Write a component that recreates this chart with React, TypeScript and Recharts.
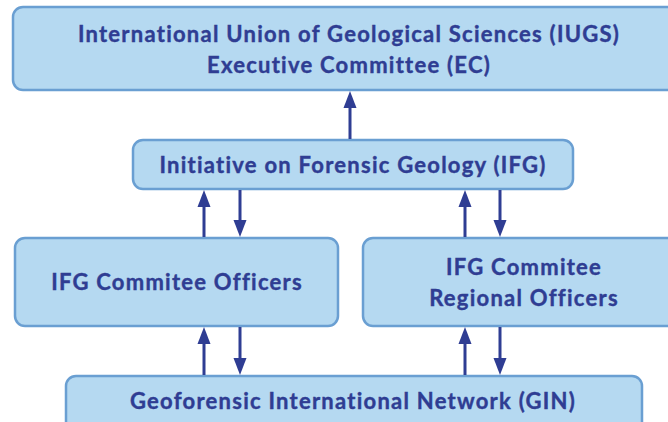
import React from "react";
import { ComposedChart, XAxis, YAxis, ReferenceArea, ReferenceLine } from "recharts";

// Node labels (content)
const nodeIds = ["iugs", "ifg", "officers", "regional", "gin"];
const nodeLines: string[][] = [
  ["International Union of Geological Sciences (IUGS)", "Executive Committee (EC)"],
  ["Initiative on Forensic Geology (IFG)"],
  ["IFG Commitee Officers"],
  ["IFG Commitee", "Regional Officers"],
  ["Geoforensic International Network (GIN)"],
];
// Links between nodes: [from, to]
const links: [string, string][] = [
  ["ifg", "iugs"],
  ["officers", "ifg"],
  ["ifg", "officers"],
  ["regional", "ifg"],
  ["ifg", "regional"],
  ["gin", "officers"],
  ["officers", "gin"],
  ["gin", "regional"],
  ["regional", "gin"],
];

// Layout (diagram coordinates)
const boxLayout: Record<string, { x1: number; x2: number; y1: number; y2: number; cx: number; cy: number }> = {
  iugs: { x1: 13, x2: 690, y1: 7, y2: 90, cx: 349, cy: 49 },
  ifg: { x1: 133, x2: 573, y1: 140, y2: 189, cx: 353, cy: 164 },
  officers: { x1: 15, x2: 338, y1: 238, y2: 326, cx: 177, cy: 281 },
  regional: { x1: 363, x2: 690, y1: 238, y2: 326, cx: 524, cy: 282 },
  gin: { x1: 66, x2: 642, y1: 376, y2: 440, cx: 353, cy: 400 },
};
const linkX: number[] = [350, 204, 240, 465, 500, 204, 240, 465, 500];

const FILL = "#b5d9f1";
const STROKE = "#6a9fd2";
const INK = "#2f3d93";
const FONT = "Lato, 'Open Sans', sans-serif";

const BoxShape = (lines: string[], cx: number, cy: number) => (props: any) => {
  const { x, y, width, height } = props;
  const lh = 31;
  const start = cy - ((lines.length - 1) * lh) / 2;
  return (
    <g>
      <rect x={x} y={y} width={width} height={height} rx={10} ry={10} fill={FILL} stroke={STROKE} strokeWidth={2.5} />
      {lines.map((t, i) => (
        <text
          key={i}
          x={cx}
          y={start + i * lh}
          textAnchor="middle"
          dominantBaseline="central"
          fill={INK}
          stroke={INK}
          strokeWidth={0.4}
          fontFamily={FONT}
          fontWeight={700}
          fontSize={22}
          letterSpacing={1.25}
        >
          {t}
        </text>
      ))}
    </g>
  );
};

const ArrowShape = (props: any) => {
  const { x1, y1, x2, y2 } = props;
  const dir = y2 > y1 ? 1 : -1;
  const headLen = 17;
  const hw = 6.5;
  const baseY = y2 - dir * headLen;
  return (
    <g>
      <line x1={x1} y1={y1} x2={x2} y2={baseY} stroke={INK} strokeWidth={3} />
      <polygon points={`${x2},${y2} ${x2 - hw},${baseY} ${x2 + hw},${baseY}`} fill={INK} />
    </g>
  );
};

export default function App() {
  return (
    <div style={{ position: "fixed", left: 0, top: 0, background: "#fff" }}>
      <ComposedChart width={668} height={422} margin={{ top: 0, right: 0, bottom: 0, left: 0 }} data={[]}>
        <XAxis type="number" dataKey="x" domain={[0, 668]} hide allowDataOverflow />
        <YAxis type="number" domain={[0, 422]} reversed hide allowDataOverflow />
        {nodeIds.map((id, i) => {
          const b = boxLayout[id];
          return (
            <ReferenceArea
              key={id}
              x1={b.x1}
              x2={b.x2}
              y1={b.y1}
              y2={b.y2}
              ifOverflow="visible"
              shape={BoxShape(nodeLines[i], b.cx, b.cy)}
            />
          );
        })}
        {links.map(([from, to], i) => {
          const a = boxLayout[from];
          const b = boxLayout[to];
          const down = a.y1 < b.y1;
          const ys = down ? a.y2 + 1 : a.y1 - 1;
          const ye = down ? b.y1 - 1 : b.y2 + 1;
          return (
            <ReferenceLine
              key={i}
              segment={[
                { x: linkX[i], y: ys },
                { x: linkX[i], y: ye },
              ]}
              ifOverflow="visible"
              shape={ArrowShape}
            />
          );
        })}
      </ComposedChart>
    </div>
  );
}
